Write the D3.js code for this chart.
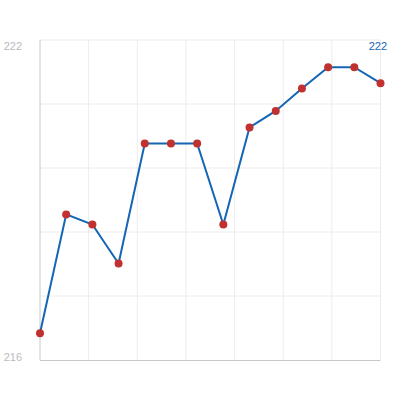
<!DOCTYPE html>
<html>
<head>
<meta charset="utf-8">
<script src="https://cdn.jsdelivr.net/npm/d3@7"></script>
<style>
  body { margin: 0; background: #fff; }
  svg text { font-family: "Liberation Sans", Arial, sans-serif; }
</style>
</head>
<body>
<script>
const idx = [1, 2, 3, 4, 5, 6, 7, 8, 9, 10, 11, 12, 13, 14];
const values = [216.5, 218.73, 218.54, 217.81, 220.06, 220.06, 220.06, 218.54, 220.36, 220.67, 221.09, 221.49, 221.49, 221.19];
const yLabels = [216, 222];
const maxLabel = "222";

const width = 420, height = 400;
const plotLeft = 40, plotRight = 380.5, plotTop = 40, plotBottom = 360;

const svg = d3.select("body").append("svg")
  .attr("width", width)
  .attr("height", height);

const x = d3.scaleLinear().domain([1, 14]).range([plotLeft, plotRight]);
const y = d3.scaleLinear().domain([216, 222]).range([plotBottom, plotTop]);
const gx = d3.scaleLinear().domain([0, 7]).range([plotLeft, plotRight]);

// grid
svg.append("g").selectAll("line")
  .data(d3.range(1, 8))
  .enter().append("line")
  .attr("x1", d => gx(d)).attr("x2", d => gx(d))
  .attr("y1", plotTop).attr("y2", plotBottom)
  .attr("stroke", "#ececec").attr("stroke-width", 1);

svg.append("g").selectAll("line")
  .data(d3.range(0, 5))
  .enter().append("line")
  .attr("x1", plotLeft).attr("x2", plotRight)
  .attr("y1", d => plotTop + d * (plotBottom - plotTop) / 5)
  .attr("y2", d => plotTop + d * (plotBottom - plotTop) / 5)
  .attr("stroke", "#ececec").attr("stroke-width", 1);

// axes
svg.append("line")
  .attr("x1", plotLeft).attr("x2", plotLeft)
  .attr("y1", plotTop).attr("y2", plotBottom)
  .attr("stroke", "#c8c8c8");
svg.append("line")
  .attr("x1", plotLeft).attr("x2", plotRight)
  .attr("y1", plotBottom + 0.5).attr("y2", plotBottom + 0.5)
  .attr("stroke", "#c8c8c8");

svg.append("g").selectAll("text")
  .data(yLabels)
  .enter().append("text")
  .attr("x", 22)
  .attr("y", d => d === 222 ? y(d) + 10 : y(d) + 1)
  .attr("text-anchor", "end")
  .attr("font-size", 11)
  .attr("fill", "#bbbbbb")
  .text(d => d);

// line
svg.append("path")
  .datum(values)
  .attr("fill", "none")
  .attr("stroke", "#1466b4")
  .attr("stroke-width", 2)
  .attr("d", d3.line().x((d, i) => x(idx[i])).y(d => y(d)));

svg.append("g").selectAll("circle")
  .data(values)
  .enter().append("circle")
  .attr("cx", (d, i) => x(idx[i]))
  .attr("cy", d => y(d))
  .attr("r", 4)
  .attr("fill", "#c0312f");

svg.append("text")
  .attr("x", 387)
  .attr("y", 50)
  .attr("text-anchor", "end")
  .attr("font-size", 11)
  .attr("fill", "#1466b4")
  .text(maxLabel);
</script>
</body>
</html>
